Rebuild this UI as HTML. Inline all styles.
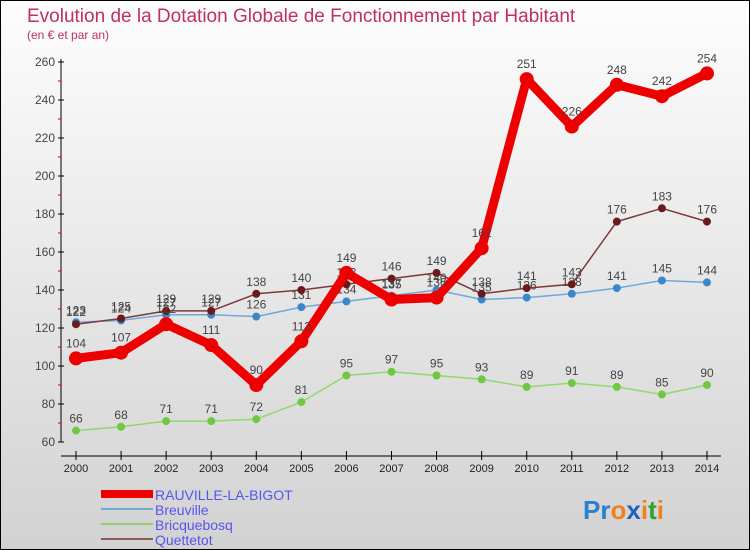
<!DOCTYPE html>
<html><head><meta charset="utf-8"><style>
body{margin:0}
#c{width:748px;height:548px;border:1px solid #000;background:linear-gradient(#fdfdfd,#d2d2d2);position:relative;font-family:"Liberation Sans",sans-serif;overflow:hidden}
</style></head><body>
<div id="c">
<svg id="s" width="748" height="548" xmlns="http://www.w3.org/2000/svg">
<text x="26" y="21" font-size="19" fill="#c0305a">Evolution de la Dotation Globale de Fonctionnement par Habitant</text>
<text x="26" y="38" font-size="12" fill="#c0305a">(en € et par an)</text>
<g id="axes"></g><g id="series"></g>
<g>
<rect x="100" y="489" width="52" height="8" fill="#e00"/>
<text x="154" y="499" font-size="14" fill="#5555ee">RAUVILLE-LA-BIGOT</text>
<rect x="100" y="507" width="52" height="2" fill="#6fa8d0"/>
<text x="154" y="514" font-size="14" fill="#5555ee">Breuville</text>
<rect x="100" y="522" width="52" height="2" fill="#90d070"/>
<text x="154" y="529" font-size="14" fill="#5555ee">Bricquebosq</text>
<rect x="100" y="537" width="52" height="2" fill="#8a5a5a"/>
<text x="154" y="544" font-size="14" fill="#5555ee">Quettetot</text>
</g>
<text x="582" y="518" font-size="26" font-weight="bold"><tspan fill="#2a7fd0">Pr</tspan><tspan fill="#f08020">o</tspan><tspan fill="#2060c0">x</tspan><tspan fill="#f08020">i</tspan><tspan fill="#30a030">t</tspan><tspan fill="#f08020">i</tspan></text>
</svg>
</div>
<script>
const years=[2000,2001,2002,2003,2004,2005,2006,2007,2008,2009,2010,2011,2012,2013,2014];
const rauville=[104,107,122,111,90,113,149,135,136,162,251,226,248,242,254];
const breuville=[123,124,127,127,126,131,134,137,140,135,136,138,141,145,144];
const bricquebosq=[66,68,71,71,72,81,95,97,95,93,89,91,89,85,90];
const quettetot=[122,125,129,129,138,140,143,146,149,138,141,143,176,183,176];
const yTicks=[60,80,100,120,140,160,180,200,220,240,260];
const NS="http://www.w3.org/2000/svg";
const X=i=>75+i*(631/14);
const Y=v=>441-(v-60)*1.9;
function mk(t,a,p){const e=document.createElementNS(NS,t);for(const k in a)e.setAttribute(k,a[k]);p.appendChild(e);return e;}
const ax=document.getElementById('axes'),sr=document.getElementById('series');
let l=mk('line',{x1:60,y1:58,x2:60,y2:441,stroke:'#000','stroke-width':1},ax);

l=mk('line',{x1:60,y1:455,x2:720,y2:455,stroke:'#000','stroke-width':1},ax);

for(let v=70;v<260;v+=20){mk('line',{x1:57,y1:Y(v),x2:60,y2:Y(v),stroke:'#d00'},ax);}
yTicks.forEach(v=>{mk('line',{x1:57,y1:Y(v),x2:63,y2:Y(v),stroke:'#000'},ax);
const t=mk('text',{x:54,y:Y(v)+4,'font-size':12,fill:'#444','text-anchor':'end'},ax);t.textContent=v;
});
years.forEach((yr,i)=>{mk('line',{x1:X(i),y1:450,x2:X(i),y2:459,stroke:'#000'},ax);
const t=mk('text',{x:X(i),y:471,'font-size':11,fill:'#222','text-anchor':'middle'},ax);t.textContent=yr;
});
function series(d,name,col,dot,w,r){
const g=mk('g',{},sr);
const p=mk('polyline',{points:d.map((v,i)=>X(i)+','+Y(v)).join(' '),fill:'none',stroke:col,'stroke-width':w,'stroke-linejoin':'round'},g);

d.forEach((v,i)=>{const c=mk('circle',{cx:X(i),cy:Y(v),r:r,fill:dot},g);

const t=mk('text',{x:X(i),y:Y(v)-r-4,'font-size':12,fill:'#444','text-anchor':'middle'},g);t.textContent=v;
});
}
series(bricquebosq,'bricquebosq','#90d870','#70c840',1.5,4);
series(breuville,'breuville','#6fa8d8','#3a88c8',1.5,4);
series(quettetot,'quettetot','#7a3a3a','#6a1a1a',1.5,4);
series(rauville,'rauville','#ee0000','#ee0000',9,7);
</script>
</body></html>
